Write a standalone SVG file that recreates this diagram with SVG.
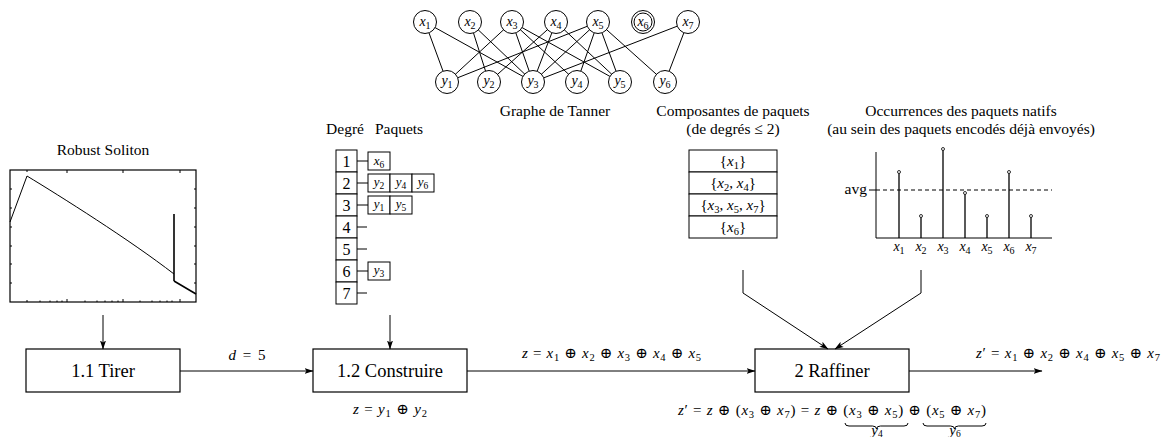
<svg xmlns="http://www.w3.org/2000/svg" width="1164" height="437" viewBox="0 0 1164 437" font-family="'Times New Roman', 'Liberation Serif', 'Noto Serif', 'DejaVu Serif', Times, serif">
<style>
text, tspan {font-family:'Times New Roman','Liberation Serif','Noto Serif','DejaVu Serif',Times,serif;fill:#000}
.ttl{font-size:15.5px;text-anchor:middle}
.box{fill:#fff;stroke:#000;stroke-width:1.2}
.lbl{font-size:18.5px;text-anchor:middle}
.m{font-size:15px}
.i{font-style:italic}
.ln{stroke:#000;stroke-width:1;fill:none}
.arr{stroke:#000;stroke-width:1;fill:none;marker-end:url(#ah)}
.nd{fill:#fff;stroke:#000;stroke-width:1}
.tn{font-size:14px;text-anchor:middle;font-style:italic}
.cell{fill:#fff;stroke:#000;stroke-width:1}
.dg{font-size:16px;text-anchor:middle}
.pk{font-size:13px;text-anchor:middle;font-style:italic}
.bar{stroke:#000;stroke-width:1.3}
.dot{fill:#fff;stroke:#000;stroke-width:0.8}
</style>
<defs>
<marker id="ah" markerWidth="9" markerHeight="7" refX="8.5" refY="3.5" orient="auto" markerUnits="userSpaceOnUse">
<path d="M0,0.5 L9,3.5 L0,6.5 L2,3.5 z" fill="#000"/>
</marker>
</defs>

<!-- Tanner graph -->
<g id="tanner">
<g class="ln">
<line x1="425" y1="22" x2="447" y2="82"/>
<line x1="425" y1="22" x2="533" y2="82"/>
<line x1="470" y1="22" x2="489" y2="82"/>
<line x1="470" y1="22" x2="533" y2="82"/>
<line x1="512" y1="22" x2="447" y2="82"/>
<line x1="512" y1="22" x2="533" y2="82"/>
<line x1="512" y1="22" x2="577" y2="82"/>
<line x1="512" y1="22" x2="620" y2="82"/>
<line x1="556" y1="22" x2="489" y2="82"/>
<line x1="556" y1="22" x2="533" y2="82"/>
<line x1="556" y1="22" x2="620" y2="82"/>
<line x1="598" y1="22" x2="447" y2="82"/>
<line x1="598" y1="22" x2="533" y2="82"/>
<line x1="598" y1="22" x2="577" y2="82"/>
<line x1="598" y1="22" x2="620" y2="82"/>
<line x1="598" y1="22" x2="665" y2="82"/>
<line x1="688" y1="22" x2="533" y2="82"/>
<line x1="688" y1="22" x2="665" y2="82"/>
</g>
<g id="x1"><circle class="nd" cx="425" cy="22" r="11.5"/><text class="tn" x="425" y="26">x<tspan dy="3" font-size="10" font-style="normal">1</tspan></text></g>
<g id="x2"><circle class="nd" cx="470" cy="22" r="11.5"/><text class="tn" x="470" y="26">x<tspan dy="3" font-size="10" font-style="normal">2</tspan></text></g>
<g id="x3"><circle class="nd" cx="512" cy="22" r="11.5"/><text class="tn" x="512" y="26">x<tspan dy="3" font-size="10" font-style="normal">3</tspan></text></g>
<g id="x4"><circle class="nd" cx="556" cy="22" r="11.5"/><text class="tn" x="556" y="26">x<tspan dy="3" font-size="10" font-style="normal">4</tspan></text></g>
<g id="x5"><circle class="nd" cx="598" cy="22" r="11.5"/><text class="tn" x="598" y="26">x<tspan dy="3" font-size="10" font-style="normal">5</tspan></text></g>
<g id="x6"><circle class="nd" cx="643" cy="22" r="11.5"/><circle class="nd" cx="643" cy="22" r="9"/><text class="tn" x="643" y="26">x<tspan dy="3" font-size="10" font-style="normal">6</tspan></text></g>
<g id="x7"><circle class="nd" cx="688" cy="22" r="11.5"/><text class="tn" x="688" y="26">x<tspan dy="3" font-size="10" font-style="normal">7</tspan></text></g>
<g id="y1"><circle class="nd" cx="447" cy="82" r="11.5"/><text class="tn" x="447" y="85">y<tspan dy="3" font-size="10" font-style="normal">1</tspan></text></g>
<g id="y2"><circle class="nd" cx="489" cy="82" r="11.5"/><text class="tn" x="489" y="85">y<tspan dy="3" font-size="10" font-style="normal">2</tspan></text></g>
<g id="y3"><circle class="nd" cx="533" cy="82" r="11.5"/><text class="tn" x="533" y="85">y<tspan dy="3" font-size="10" font-style="normal">3</tspan></text></g>
<g id="y4"><circle class="nd" cx="577" cy="82" r="11.5"/><text class="tn" x="577" y="85">y<tspan dy="3" font-size="10" font-style="normal">4</tspan></text></g>
<g id="y5"><circle class="nd" cx="620" cy="82" r="11.5"/><text class="tn" x="620" y="85">y<tspan dy="3" font-size="10" font-style="normal">5</tspan></text></g>
<g id="y6"><circle class="nd" cx="665" cy="82" r="11.5"/><text class="tn" x="665" y="85">y<tspan dy="3" font-size="10" font-style="normal">6</tspan></text></g>
<text class="ttl" x="555" y="116">Graphe de Tanner</text>
</g>

<!-- Robust Soliton chart -->
<g id="soliton">
<text class="ttl" x="103" y="155">Robust Soliton</text>
<rect x="10" y="170" width="186" height="132" fill="#fff" stroke="#000" stroke-width="1.2"/>
<g class="ln" stroke-width="0.6">
<path d="M10,189h2M10,208h2M10,227h2M10,246h2M10,264h2M10,283h2M196,189h-2M196,208h-2M196,227h-2M196,246h-2M196,264h-2M196,283h-2"/>
<path d="M27,302v-2M67,302v-3M123,302v-3M180,302v-3M27,170v2M67,170v3M123,170v3M180,170v3"/>
<path d="M40,302v-1.5M50,302v-1.5M57,302v-1.5M62,302v-1.5M85,302v-1.5M97,302v-1.5M105,302v-1.5M112,302v-1.5M118,302v-1.5M140,302v-1.5M152,302v-1.5M160,302v-1.5M167,302v-1.5M172,302v-1.5"/>
</g>
<path class="ln" stroke-width="1.1" d="M10,222 L27,176 C60,196 130,240 174,274"/>
<line x1="174" y1="214" x2="174" y2="281" stroke="#000" stroke-width="1.6"/>
<line x1="174" y1="281" x2="196" y2="294" stroke="#000" stroke-width="1.6"/>
</g>

<!-- Degree table -->
<g id="degres">
<text class="ttl" x="345" y="134">Degré</text>
<text class="ttl" x="399" y="134">Paquets</text>
<g>
<rect class="cell" x="336" y="150" width="21" height="22"/>
<rect class="cell" x="336" y="172" width="21" height="22"/>
<rect class="cell" x="336" y="194" width="21" height="22"/>
<rect class="cell" x="336" y="216" width="21" height="22"/>
<rect class="cell" x="336" y="238" width="21" height="22"/>
<rect class="cell" x="336" y="260" width="21" height="22"/>
<rect class="cell" x="336" y="282" width="21" height="22"/>
</g>
<text class="dg" x="346.5" y="167">1</text>
<text class="dg" x="346.5" y="189">2</text>
<text class="dg" x="346.5" y="211">3</text>
<text class="dg" x="346.5" y="233">4</text>
<text class="dg" x="346.5" y="255">5</text>
<text class="dg" x="346.5" y="277">6</text>
<text class="dg" x="346.5" y="299">7</text>
<path class="ln" d="M357,161h11M357,183h11M357,205h11M357,227h10M357,249h10M357,271h11M357,293h10"/>
<rect class="cell" x="368" y="152" width="22" height="18"/><text class="pk" x="379" y="165">x<tspan dy="2.5" font-size="9.5" font-style="normal">6</tspan></text>
<rect class="cell" x="368" y="174" width="22" height="18"/><text class="pk" x="379" y="186">y<tspan dy="2.5" font-size="9.5" font-style="normal">2</tspan></text>
<rect class="cell" x="390" y="174" width="22" height="18"/><text class="pk" x="401" y="186">y<tspan dy="2.5" font-size="9.5" font-style="normal">4</tspan></text>
<rect class="cell" x="412" y="174" width="22" height="18"/><text class="pk" x="423" y="186">y<tspan dy="2.5" font-size="9.5" font-style="normal">6</tspan></text>
<rect class="cell" x="368" y="196" width="22" height="18"/><text class="pk" x="379" y="208">y<tspan dy="2.5" font-size="9.5" font-style="normal">1</tspan></text>
<rect class="cell" x="390" y="196" width="22" height="18"/><text class="pk" x="401" y="208">y<tspan dy="2.5" font-size="9.5" font-style="normal">5</tspan></text>
<rect class="cell" x="368" y="262" width="22" height="18"/><text class="pk" x="379" y="274">y<tspan dy="2.5" font-size="9.5" font-style="normal">3</tspan></text>
</g>

<!-- Composantes -->
<g id="composantes">
<text class="ttl" x="733" y="116">Composantes de paquets</text>
<text class="ttl" x="733" y="134">(de degrés ≤ 2)</text>
<rect class="cell" x="689" y="150" width="88" height="22"/>
<rect class="cell" x="689" y="172" width="88" height="22"/>
<rect class="cell" x="689" y="194" width="88" height="22"/>
<rect class="cell" x="689" y="216" width="88" height="22"/>
<text class="m" text-anchor="middle" x="733" y="166">{<tspan class="i">x</tspan><tspan dy="3" font-size="10.5">1</tspan><tspan dy="-3">}</tspan></text>
<text class="m" text-anchor="middle" x="733" y="188">{<tspan class="i">x</tspan><tspan dy="3" font-size="10.5">2</tspan><tspan dy="-3">, </tspan><tspan class="i">x</tspan><tspan dy="3" font-size="10.5">4</tspan><tspan dy="-3">}</tspan></text>
<text class="m" text-anchor="middle" x="733" y="210">{<tspan class="i">x</tspan><tspan dy="3" font-size="10.5">3</tspan><tspan dy="-3">, </tspan><tspan class="i">x</tspan><tspan dy="3" font-size="10.5">5</tspan><tspan dy="-3">, </tspan><tspan class="i">x</tspan><tspan dy="3" font-size="10.5">7</tspan><tspan dy="-3">}</tspan></text>
<text class="m" text-anchor="middle" x="733" y="232">{<tspan class="i">x</tspan><tspan dy="3" font-size="10.5">6</tspan><tspan dy="-3">}</tspan></text>
</g>

<!-- Occurrences chart -->
<g id="occurrences">
<text class="ttl" x="961" y="116">Occurrences des paquets natifs</text>
<text class="ttl" x="961" y="134">(au sein des paquets encodés déjà envoyés)</text>
<path class="ln" d="M876,152V238H1052"/>
<line x1="869" y1="190" x2="876" y2="190" stroke="#000" stroke-width="1"/>
<line x1="876" y1="190" x2="1052" y2="190" stroke="#000" stroke-width="1" stroke-dasharray="4,3"/>
<text font-size="15.5" text-anchor="end" x="867" y="194">avg</text>
<g class="bar">
<line x1="899" y1="238" x2="899" y2="172"/>
<line x1="921" y1="238" x2="921" y2="216"/>
<line x1="943" y1="238" x2="943" y2="149"/>
<line x1="965" y1="238" x2="965" y2="193"/>
<line x1="987" y1="238" x2="987" y2="216"/>
<line x1="1009" y1="238" x2="1009" y2="172"/>
<line x1="1031" y1="238" x2="1031" y2="216"/>
</g>
<g class="dot">
<circle cx="899" cy="172" r="1.5"/><circle cx="921" cy="216" r="1.5"/><circle cx="943" cy="149" r="1.5"/><circle cx="965" cy="193" r="1.5"/><circle cx="987" cy="216" r="1.5"/><circle cx="1009" cy="172" r="1.5"/><circle cx="1031" cy="216" r="1.5"/>
</g>
<g class="tn">
<text x="899" y="251">x<tspan dy="3" font-size="10" font-style="normal">1</tspan></text>
<text x="921" y="251">x<tspan dy="3" font-size="10" font-style="normal">2</tspan></text>
<text x="943" y="251">x<tspan dy="3" font-size="10" font-style="normal">3</tspan></text>
<text x="965" y="251">x<tspan dy="3" font-size="10" font-style="normal">4</tspan></text>
<text x="987" y="251">x<tspan dy="3" font-size="10" font-style="normal">5</tspan></text>
<text x="1009" y="251">x<tspan dy="3" font-size="10" font-style="normal">6</tspan></text>
<text x="1031" y="251">x<tspan dy="3" font-size="10" font-style="normal">7</tspan></text>
</g>
</g>

<!-- Process nodes -->
<g id="tirer"><rect class="box" x="26" y="349" width="154" height="43"/><text class="lbl" x="103" y="377">1.1 Tirer</text></g>
<g id="construire"><rect class="box" x="313" y="349" width="154" height="43"/><text class="lbl" x="390" y="377">1.2 Construire</text>
<text class="m" text-anchor="middle" x="390" y="414" textLength="74" lengthAdjust="spacing"><tspan class="i">z</tspan> = <tspan class="i">y</tspan><tspan dy="3" font-size="10.5">1</tspan><tspan dy="-3"> ⊕ </tspan><tspan class="i">y</tspan><tspan dy="3" font-size="10.5">2</tspan></text>
</g>
<g id="raffiner"><rect class="box" x="755" y="349" width="154" height="43"/><text class="lbl" x="832" y="377">2 Raffiner</text>
<text class="m" text-anchor="middle" x="832" y="415" textLength="308" lengthAdjust="spacing"><tspan class="i">z</tspan>′ = <tspan class="i">z</tspan> ⊕ (<tspan class="i">x</tspan><tspan dy="3" font-size="10.5">3</tspan><tspan dy="-3"> ⊕ </tspan><tspan class="i">x</tspan><tspan dy="3" font-size="10.5">7</tspan><tspan dy="-3">) = </tspan><tspan class="i">z</tspan> ⊕ (<tspan class="i">x</tspan><tspan dy="3" font-size="10.5">3</tspan><tspan dy="-3"> ⊕ </tspan><tspan class="i">x</tspan><tspan dy="3" font-size="10.5">5</tspan><tspan dy="-3">) ⊕ (</tspan><tspan class="i">x</tspan><tspan dy="3" font-size="10.5">5</tspan><tspan dy="-3"> ⊕ </tspan><tspan class="i">x</tspan><tspan dy="3" font-size="10.5">7</tspan><tspan dy="-3">)</tspan></text>
<path class="ln" stroke-width="1.4" d="M845,423 Q845,426 849,426 L872.5,426 Q876.5,426 876.5,429 Q876.5,426 880.5,426 L904,426 Q908,426 908,423"/>
<path class="ln" stroke-width="1.4" d="M923,423 Q923,426 927,426 L950.5,426 Q954.5,426 954.5,429 Q954.5,426 958.5,426 L982,426 Q986,426 986,423"/>
<text class="m" text-anchor="middle" x="877" y="435" font-size="13"><tspan class="i">y</tspan><tspan dy="2" font-size="9.5">4</tspan></text>
<text class="m" text-anchor="middle" x="955" y="435" font-size="13"><tspan class="i">y</tspan><tspan dy="2" font-size="9.5">6</tspan></text>
</g>

<!-- Connectors -->
<g id="connectors">
<line class="arr" x1="103" y1="315" x2="103" y2="349"/>
<line class="arr" x1="390" y1="315" x2="390" y2="349"/>
<line class="arr" x1="180" y1="371" x2="313" y2="371"/>
<line class="arr" x1="467" y1="371" x2="755" y2="371"/>
<line class="arr" x1="909" y1="371" x2="1042" y2="371"/>
<polyline class="arr" points="743,270 743,293 828,349"/>
<polyline class="arr" points="921,270 921,293 835,349"/>
<text class="m" text-anchor="middle" x="247" y="360" textLength="37" lengthAdjust="spacing"><tspan class="i">d</tspan> = 5</text>
<text class="m" text-anchor="middle" x="611.5" y="358" textLength="179" lengthAdjust="spacing"><tspan class="i">z</tspan> = <tspan class="i">x</tspan><tspan dy="3" font-size="10.5">1</tspan><tspan dy="-3"> ⊕ </tspan><tspan class="i">x</tspan><tspan dy="3" font-size="10.5">2</tspan><tspan dy="-3"> ⊕ </tspan><tspan class="i">x</tspan><tspan dy="3" font-size="10.5">3</tspan><tspan dy="-3"> ⊕ </tspan><tspan class="i">x</tspan><tspan dy="3" font-size="10.5">4</tspan><tspan dy="-3"> ⊕ </tspan><tspan class="i">x</tspan><tspan dy="3" font-size="10.5">5</tspan></text>
<text class="m" text-anchor="middle" x="1068" y="358" textLength="184" lengthAdjust="spacing"><tspan class="i">z</tspan>′ = <tspan class="i">x</tspan><tspan dy="3" font-size="10.5">1</tspan><tspan dy="-3"> ⊕ </tspan><tspan class="i">x</tspan><tspan dy="3" font-size="10.5">2</tspan><tspan dy="-3"> ⊕ </tspan><tspan class="i">x</tspan><tspan dy="3" font-size="10.5">4</tspan><tspan dy="-3"> ⊕ </tspan><tspan class="i">x</tspan><tspan dy="3" font-size="10.5">5</tspan><tspan dy="-3"> ⊕ </tspan><tspan class="i">x</tspan><tspan dy="3" font-size="10.5">7</tspan></text>
</g>
</svg>
